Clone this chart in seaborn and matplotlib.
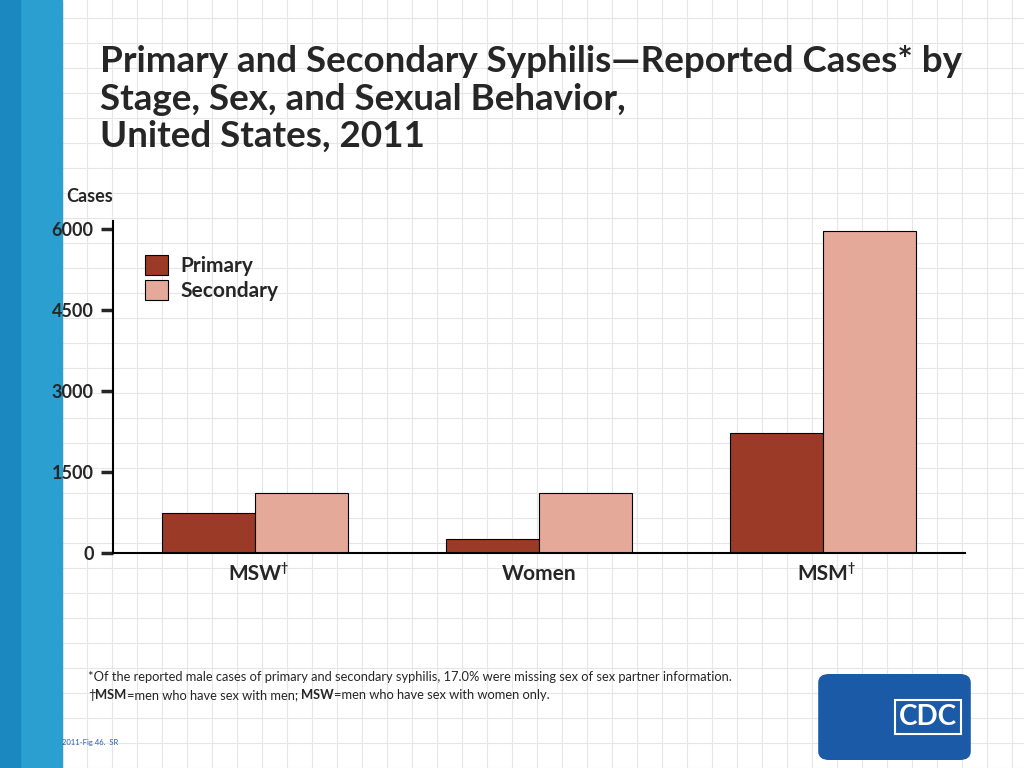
import matplotlib
matplotlib.use("Agg")
import matplotlib.pyplot as plt
import seaborn as sns
import pandas as pd
import numpy as np
from matplotlib.patches import Rectangle, FancyBboxPatch
from matplotlib import font_manager as fm

groups = ["MSW", "Women", "MSM"]
daggered = [True, False, True]
primary = [740, 255, 2225]
secondary = [1110, 1110, 5960]
stages = ["Primary", "Secondary"]
yticks = [0, 1500, 3000, 4500, 6000]

df = pd.DataFrame({
    "group": groups * 2,
    "stage": ["Primary"] * 3 + ["Secondary"] * 3,
    "cases": primary + secondary,
})

sns.set_theme(style="white")
# pick a family that actually has a bold face
fam = "Lato"
bold_ok = any(f.name == "Lato" and f.weight in (700, "bold") for f in fm.fontManager.ttflist)
if not bold_ok:
    fam = "Open Sans"
plt.rcParams['font.family'] = [fam, 'DejaVu Sans']
k = 1.0 if fam == "Lato" else 0.92

fig = plt.figure(figsize=(10.24, 7.68), dpi=100)
fig.patch.set_facecolor("white")
for x in np.arange(62, 1024, 25):
    fig.add_artist(plt.Line2D([x/1024, x/1024], [0, 1], color="#e6e6e6", lw=0.8, zorder=0))
for y in np.arange(0, 768, 25):
    fig.add_artist(plt.Line2D([62/1024, 1], [y/768, y/768], color="#e6e6e6", lw=0.8, zorder=0))
fig.add_artist(Rectangle((0, 0), 62/1024, 1, transform=fig.transFigure, color="#2a9fd0", zorder=0))
fig.add_artist(Rectangle((0, 0), 20/1024, 1, transform=fig.transFigure, color="#1b88c0", zorder=0))

ax = fig.add_axes([113/1024, 1-553/768, 852/1024, 324/768*6150/6000])
ax.set_facecolor("none")
sns.barplot(data=df, x="group", y="cases", hue="stage", hue_order=stages,
            palette=["#9b3a26", "#e5a99a"], saturation=1, width=0.654, gap=0,
            edgecolor="black", linewidth=0.8, ax=ax, legend=True)
ax.set_xlim(-0.5, 2.5)
ax.set_ylim(0, 6150)
ax.set_yticks(yticks)
ax.set_yticklabels([str(t) for t in yticks], fontweight="bold", fontsize=13*k)
ax.tick_params(axis="y", direction="out", length=9, width=2.5, pad=5, left=True)
ax.set_xticks([0, 1, 2])
ax.set_xticklabels(groups, fontweight="bold", fontsize=15*k)
ax.tick_params(axis="x", length=0, pad=8)
ax.set_xlabel("")
ax.set_ylabel("")
for s in ["top", "right"]:
    ax.spines[s].set_visible(False)
for s in ["left", "bottom"]:
    ax.spines[s].set_color("black")
    ax.spines[s].set_linewidth(1.5)
ax.legend(loc="upper left", bbox_to_anchor=(0.025, 0.93), frameon=False,
          prop={"size": 15*k, "weight": "bold"}, handlelength=1.1, handleheight=1.1,
          labelspacing=0.2, borderpad=0, handletextpad=0.6)

fig.canvas.draw()
renderer = fig.canvas.get_renderer()
for lab, dag in zip(ax.get_xticklabels(), daggered):
    if dag:
        bb = lab.get_window_extent(renderer)
        fig.text((bb.x1 - 1) / 1024, (bb.y1 + 2) / 768, "\u2020", fontsize=9,
                 fontweight="bold", va="top", ha="left")

def runs(x, y, parts, size):
    for txt, w in parts:
        t = fig.text(x / 1024, y / 768, txt, fontsize=size, fontweight=w, va="center")
        x = t.get_window_extent(renderer).x1

fig.text(66/1024, 1-196/768, "Cases", fontsize=13*k, fontweight="bold", va="center")
fig.text(100/1024, 1-99/768,
         "Primary and Secondary Syphilis\u2014Reported Cases* by\nStage, Sex, and Sexual Behavior,\nUnited States, 2011",
         fontsize=26.5*k*(0.95 if k < 1 else 1), fontweight="bold", va="center", linespacing=1.17)
fig.text(88/1024, 1-677/768,
         "*Of the reported male cases of primary and secondary syphilis, 17.0% were missing sex of sex partner information.",
         fontsize=9.3*k, va="center")
runs(88, 768 - 695, [("\u2020", "normal"), ("MSM", "bold"),
                     ("=men who have sex with men; ", "normal"), ("MSW", "bold"),
                     ("=men who have sex with women only.", "normal")], 9.3*k)
fig.text(62/1024, 1-743/768, "2011-Fig 46.  SR", fontsize=5.5, color="#2a5db0", va="center")
fig.add_artist(FancyBboxPatch((822/1024, 1-757/768), 145/1024, 80/768,
                              boxstyle="round,pad=0.003,rounding_size=0.01",
                              transform=fig.transFigure, color="#1a5aa6"))
fig.text(928/1024, 1-717/768, "CDC", fontsize=20, fontweight="bold", color="white",
         ha="center", va="center",
         bbox=dict(boxstyle="square,pad=0.15", fc="#1a5aa6", ec="white", lw=1.5))

fig.savefig("out.png", dpi=100)
